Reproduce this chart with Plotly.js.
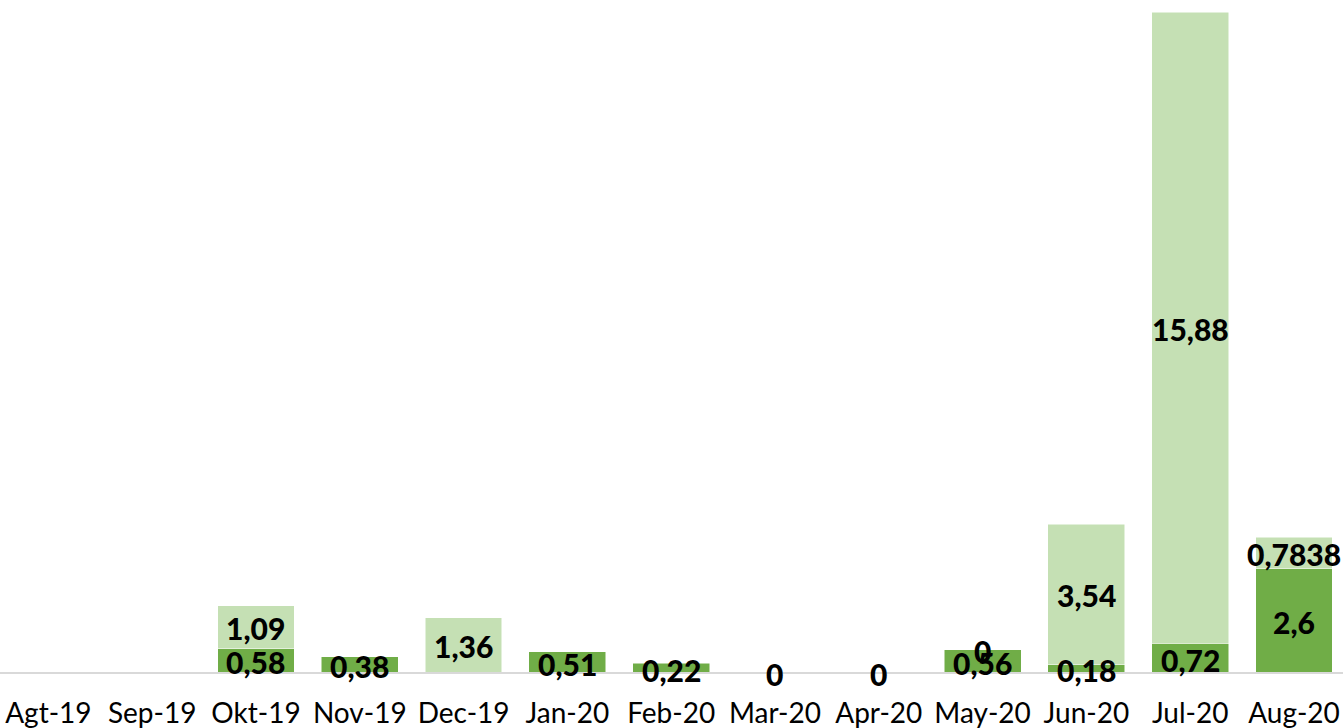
<!DOCTYPE html>
<html>
<head>
<meta charset="utf-8">
<script src="https://cdn.plot.ly/plotly-3.0.1.min.js"></script>
<style>html,body{margin:0;padding:0;background:#fff;}#chart{width:1343px;height:728px;}</style>
</head>
<body>
<div id="chart"></div>
<script>
const categories = ['Agt-19','Sep-19','Okt-19','Nov-19','Dec-19','Jan-20','Feb-20','Mar-20','Apr-20','May-20','Jun-20','Jul-20','Aug-20'];
const darkValues = [null, null, 0.58, 0.38, null, 0.51, 0.22, 0, 0, 0.56, 0.18, 0.72, 2.6];
const lightValues = [null, null, 1.09, null, 1.36, null, null, null, null, 0, 3.54, 15.88, 0.7838];

const fmt = v => String(v).replace('.', ',');
const labelFont = {family: 'Lato, "Open Sans", sans-serif', size: 30, color: '#000000', weight: 900};
const annotations = [];
categories.forEach((c, i) => {
  const d = darkValues[i], l = lightValues[i];
  if (d !== null) annotations.push({x: c, y: d / 2, text: fmt(d), showarrow: false, font: labelFont, yshift: -2, xanchor: 'center', yanchor: 'middle'});
  if (l !== null) annotations.push({x: c, y: (d || 0) + l / 2, text: fmt(l), showarrow: false, font: labelFont, yshift: -1, xanchor: 'center', yanchor: 'middle'});
});

const traces = [
  {type: 'bar', x: categories, y: darkValues, marker: {color: '#70AD47', line: {color: '#ffffff', width: 0.5}}, hoverinfo: 'skip'},
  {type: 'bar', x: categories, y: lightValues, marker: {color: '#C5E0B4', line: {color: '#ffffff', width: 0.5}}, hoverinfo: 'skip'}
];

const layout = {
  width: 1343, height: 728,
  margin: {l: 0, r: 0, t: 12, b: 56},
  barmode: 'stack', bargap: 0.26,
  showlegend: false,
  paper_bgcolor: '#ffffff', plot_bgcolor: '#ffffff',
  annotations: annotations,
  xaxis: {type: 'category', range: [-0.466, 12.472], showline: true, linecolor: '#d9d9d9', linewidth: 1.5, showgrid: false, zeroline: false,
          ticks: '', ticklabelstandoff: 16, tickfont: {family: 'Lato, "Open Sans", sans-serif', size: 28, color: '#000000'}},
  yaxis: {range: [0, 16.6], visible: false, showgrid: false, zeroline: false}
};

Plotly.newPlot('chart', traces, layout, {displayModeBar: false, staticPlot: true});
</script>
</body>
</html>
